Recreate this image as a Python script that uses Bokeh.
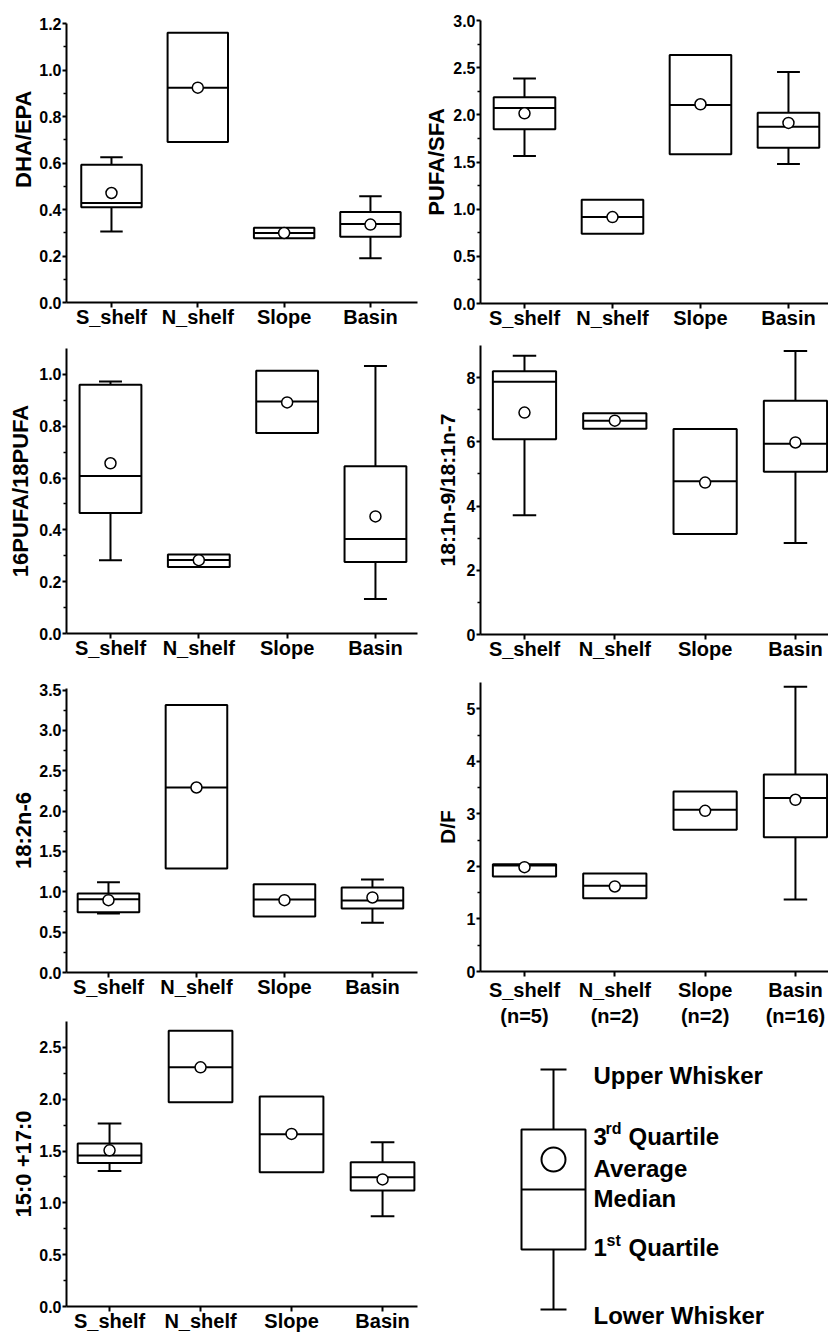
from bokeh.plotting import figure
from bokeh.layouts import row, column
from bokeh.models import Range1d, FixedTicker, PrintfTickFormatter, Label, Title
from bokeh.embed import file_html
from bokeh.resources import INLINE

# ---------------- data ----------------
categories = ["S_shelf", "N_shelf", "Slope", "Basin"]
sample_sizes = [5, 2, 2, 16]
NA = None

# DHA/EPA
dha_lower = [0.305, NA, NA, 0.19]
dha_q1 = [0.41, 0.69, 0.276, 0.283]
dha_median = [0.428, 0.924, 0.299, 0.338]
dha_q3 = [0.592, 1.16, 0.322, 0.389]
dha_upper = [0.625, NA, NA, 0.457]
dha_mean = [0.471, 0.924, 0.299, 0.335]
dha_ticks = [0.0, 0.2, 0.4, 0.6, 0.8, 1.0, 1.2]

# PUFA/SFA
pufa_lower = [1.563, NA, NA, 1.479]
pufa_q1 = [1.846, 0.739, 1.581, 1.652]
pufa_median = [2.073, 0.916, 2.105, 1.875]
pufa_q3 = [2.186, 1.10, 2.635, 2.023]
pufa_upper = [2.384, NA, NA, 2.455]
pufa_mean = [2.016, 0.916, 2.112, 1.914]
pufa_ticks = [0.0, 0.5, 1.0, 1.5, 2.0, 2.5, 3.0]

# 16PUFA/18PUFA
p16_lower = [0.283, NA, NA, 0.133]
p16_q1 = [0.465, 0.257, 0.774, 0.276]
p16_median = [0.608, 0.284, 0.895, 0.365]
p16_q3 = [0.96, 0.305, 1.014, 0.646]
p16_upper = [0.973, NA, NA, 1.032]
p16_mean = [0.657, 0.283, 0.892, 0.452]
p16_ticks = [0.0, 0.2, 0.4, 0.6, 0.8, 1.0]

# 18:1n-9/18:1n-7
c18_lower = [3.71, NA, NA, 2.85]
c18_q1 = [6.08, 6.41, 3.13, 5.07]
c18_median = [7.87, 6.66, 4.77, 5.94]
c18_q3 = [8.20, 6.89, 6.40, 7.28]
c18_upper = [8.68, NA, NA, 8.83]
c18_mean = [6.91, 6.66, 4.73, 5.98]
c18_ticks = [0, 2, 4, 6, 8]

# 18:2n-6
la_lower = [0.731, NA, NA, 0.616]
la_q1 = [0.748, 1.289, 0.694, 0.793]
la_median = [0.909, 2.293, 0.905, 0.893]
la_q3 = [0.979, 3.314, 1.095, 1.054]
la_upper = [1.12, NA, NA, 1.153]
la_mean = [0.897, 2.293, 0.897, 0.93]
la_ticks = [0.0, 0.5, 1.0, 1.5, 2.0, 2.5, 3.0, 3.5]

# D/F
df_lower = [NA, NA, NA, 1.37]
df_q1 = [1.808, 1.396, 2.697, 2.557]
df_median = [2.018, 1.631, 3.077, 3.30]
df_q3 = [2.043, 1.866, 3.426, 3.75]
df_upper = [NA, NA, NA, 5.419]
df_mean = [1.986, 1.618, 3.058, 3.268]
df_ticks = [0, 1, 2, 3, 4, 5]

# 15:0 + 17:0
odd_lower = [1.308, NA, NA, 0.870]
odd_q1 = [1.384, 1.970, 1.296, 1.119]
odd_median = [1.457, 2.308, 1.661, 1.248]
odd_q3 = [1.573, 2.661, 2.027, 1.393]
odd_upper = [1.765, NA, NA, 1.586]
odd_mean = [1.507, 2.308, 1.665, 1.226]
odd_ticks = [0.0, 0.5, 1.0, 1.5, 2.0, 2.5]

# legend schematic (arbitrary units)
legend_box = {"lower": 0, "q1": 6, "median": 12, "mean": 15, "q3": 18, "upper": 24}

FONT = "Liberation Sans"
BOX_W = 0.7
CAP_W = 0.26

LEFT = dict(width=418, min_border_left=66, min_border_right=1)
RIGHT = dict(width=410, min_border_left=62, min_border_right=0)


def minors(ticks):
    return [(a + b) / 2 for a, b in zip(ticks[:-1], ticks[1:])]


def make_panel(title, lower, q1, med, q3, upper, mean, ticks, fmt, y_end,
               x_start, x_end, side, height, top, bottom, label_standoff=0,
               title_size="22px", xlabels=None, x_standoff=-2, title_offset=None):
    p = figure(width=side["width"], height=height,
               x_range=Range1d(x_start, x_end), y_range=Range1d(0, y_end),
               output_backend="svg", toolbar_location=None,
               min_border_left=side["min_border_left"],
               min_border_right=side["min_border_right"],
               min_border_top=top, min_border_bottom=bottom)
    p.grid.visible = False
    p.outline_line_color = None
    p.background_fill_color = "white"
    p.border_fill_color = "white"

    ya = p.yaxis[0]
    ya.ticker = FixedTicker(ticks=ticks, minor_ticks=minors(ticks))
    ya.formatter = PrintfTickFormatter(format=fmt)
    ya.major_tick_out = 4
    ya.major_tick_in = 0
    ya.minor_tick_out = 3
    ya.minor_tick_in = 0
    ya.axis_line_width = 2
    ya.axis_line_color = "black"
    ya.major_tick_line_width = 2
    ya.minor_tick_line_width = 1.5
    ya.major_tick_line_color = "black"
    ya.minor_tick_line_color = "black"
    ya.major_label_text_font = FONT
    ya.major_label_text_font_style = "bold"
    ya.major_label_text_font_size = "16px"
    ya.major_label_text_color = "black"
    ya.major_label_standoff = 1

    if title_offset is None:
        ya.axis_label = title
        ya.axis_label_standoff = label_standoff
        ya.axis_label_text_font = FONT
        ya.axis_label_text_font_style = "bold"
        ya.axis_label_text_font_size = title_size
        ya.axis_label_text_color = "black"
    else:
        # vertical title placed off-centre, as in the original panel
        p.add_layout(Title(text=title, align="right", offset=title_offset,
                           standoff=label_standoff, text_font=FONT,
                           text_font_style="bold", text_font_size=title_size,
                           text_color="black"), "left")

    xpos = [1, 2, 3, 4]
    labels = xlabels if xlabels is not None else categories
    xa = p.xaxis[0]
    xa.ticker = FixedTicker(ticks=xpos, minor_ticks=[])
    xa.major_label_overrides = {i: lab for i, lab in zip(xpos, labels)}
    xa.major_tick_out = 5
    xa.major_tick_in = 0
    xa.minor_tick_out = 0
    xa.axis_line_width = 2
    xa.axis_line_color = "black"
    xa.major_tick_line_width = 2
    xa.major_tick_line_color = "black"
    xa.major_label_text_font = FONT
    xa.major_label_text_font_style = "bold"
    xa.major_label_text_font_size = "20px"
    xa.major_label_text_color = "black"
    xa.major_label_standoff = x_standoff

    # whiskers
    for x, lo, a, b, hi in zip(xpos, lower, q1, q3, upper):
        if hi is not None:
            p.segment(x0=[x], x1=[x], y0=[b], y1=[hi], line_color="black", line_width=2)
            p.segment(x0=[x - CAP_W / 2], x1=[x + CAP_W / 2], y0=[hi], y1=[hi],
                      line_color="black", line_width=2)
        if lo is not None:
            p.segment(x0=[x], x1=[x], y0=[lo], y1=[a], line_color="black", line_width=2)
            p.segment(x0=[x - CAP_W / 2], x1=[x + CAP_W / 2], y0=[lo], y1=[lo],
                      line_color="black", line_width=2)
    # boxes
    p.vbar(x=xpos, width=BOX_W, bottom=q1, top=q3, fill_color="white",
           line_color="black", line_width=2)
    p.segment(x0=[x - BOX_W / 2 for x in xpos], x1=[x + BOX_W / 2 for x in xpos],
              y0=med, y1=med, line_color="black", line_width=2)
    # mean
    p.scatter(x=xpos, y=mean, marker="circle", size=11, fill_color="white",
              line_color="black", line_width=1.5)
    return p


f1 = make_panel("DHA/EPA", dha_lower, dha_q1, dha_median, dha_q3, dha_upper, dha_mean,
                dha_ticks, "%.1f", 1.2, 0.479, 4.545, LEFT, 334, 23, 32,
                label_standoff=1, title_offset=67)
f2 = make_panel("PUFA/SFA", pufa_lower, pufa_q1, pufa_median, pufa_q3, pufa_upper, pufa_mean,
                pufa_ticks, "%.1f", 3.0, 0.5, 4.455, RIGHT, 334, 20, 31, label_standoff=1)
f3 = make_panel("16PUFA/18PUFA", p16_lower, p16_q1, p16_median, p16_q3, p16_upper, p16_mean,
                p16_ticks, "%.1f", 1.1, 0.502, 4.476, LEFT, 328, 14, 29, label_standoff=3)
f4 = make_panel("18:1n-9/18:1n-7", c18_lower, c18_q1, c18_median, c18_q3, c18_upper, c18_mean,
                c18_ticks, "%d", 9.0, 0.513, 4.366, RIGHT, 328, 11, 27,
                label_standoff=5, title_size="21px")
f5 = make_panel("18:2n-6", la_lower, la_q1, la_median, la_q3, la_upper, la_mean,
                la_ticks, "%.1f", 3.52, 0.523, 4.512, LEFT, 338, 26, 28, label_standoff=0)
df_labels = [f"{c}\n(n={n})" for c, n in zip(categories, sample_sizes)]
f6 = make_panel("D/F", df_lower, df_q1, df_median, df_q3, df_upper, df_mean,
                df_ticks, "%d", 5.5, 0.513, 4.366, RIGHT, 378, 20, 69,
                label_standoff=5, title_size="21px", xlabels=df_labels, x_standoff=2)
f7 = make_panel("15:0 +17:0", odd_lower, odd_q1, odd_median, odd_q3, odd_upper, odd_mean,
                odd_ticks, "%.1f", 2.75, 0.527, 4.384, LEFT, 334, 21, 26, label_standoff=0)

# ---------------- legend schematic ----------------
lg = figure(width=410, height=294, x_range=Range1d(480, 828), y_range=Range1d(-2.5, 26.9),
            output_backend="svg", toolbar_location=None, x_axis_type=None, y_axis_type=None,
            min_border_left=62, min_border_right=0, min_border_top=0, min_border_bottom=0)
lg.grid.visible = False
lg.outline_line_color = None
bx, bw, cw = 553, 64, 26
lb = legend_box
lg.segment(x0=[bx, bx], x1=[bx, bx], y0=[lb["q3"], lb["lower"]], y1=[lb["upper"], lb["q1"]],
           line_color="black", line_width=2)
lg.segment(x0=[bx - cw / 2] * 2, x1=[bx + cw / 2] * 2, y0=[lb["upper"], lb["lower"]],
           y1=[lb["upper"], lb["lower"]], line_color="black", line_width=2)
lg.vbar(x=[bx], width=bw, bottom=[lb["q1"]], top=[lb["q3"]], fill_color="white",
        line_color="black", line_width=2)
lg.segment(x0=[bx - bw / 2], x1=[bx + bw / 2], y0=[lb["median"]], y1=[lb["median"]],
           line_color="black", line_width=2)
lg.scatter(x=[bx], y=[lb["mean"]], marker="circle", size=24, fill_color="white",
           line_color="black", line_width=2)

tx = 593


def ltxt(x, y, t, size="24px"):
    lg.add_layout(Label(x=x, y=y, text=t, text_align="left", text_baseline="alphabetic",
                        text_font=FONT, text_font_style="bold", text_font_size=size,
                        text_color="black"))


ltxt(tx, 23.4, "Upper Whisker")
ltxt(tx, 17.3, "3")
ltxt(tx + 12, 18.1, "rd", "16px")
ltxt(tx + 35, 17.3, "Quartile")
ltxt(tx, 14.1, "Average")
ltxt(tx, 11.1, "Median")
ltxt(tx, 6.2, "1")
ltxt(tx + 13, 6.9, "st", "16px")
ltxt(tx + 35, 6.2, "Quartile")
ltxt(tx, -0.6, "Lower Whisker")

layout = row(column(f1, f3, f5, f7), column(f2, f4, f6, lg))

open("out.html", "w").write(file_html(layout, INLINE))
